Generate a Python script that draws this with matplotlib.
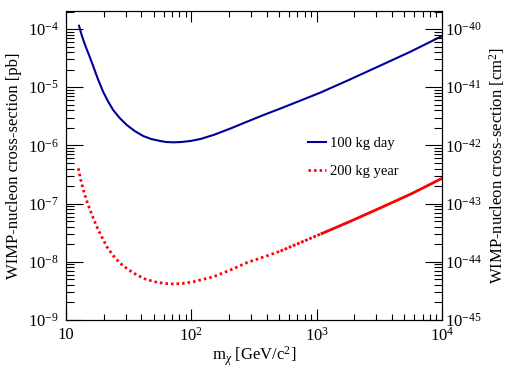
import numpy as np
import matplotlib.pyplot as plt
from matplotlib.ticker import FuncFormatter, FixedLocator, NullFormatter

plt.rcParams['font.family'] = ['Liberation Serif', 'DejaVu Serif']
plt.rcParams['mathtext.fontset'] = 'custom'
plt.rcParams['mathtext.rm'] = 'Liberation Serif'
plt.rcParams['mathtext.it'] = 'Liberation Serif:italic'

# WIMP mass [GeV/c^2] and cross-section limits [pb]
mass_day = [12.71, 13.18, 13.75, 14.45, 15.42, 16.54, 18.03, 19.77, 21.68, 23.77,
            26.79, 30.59, 35.32, 41.30, 47.86, 56.49, 63.10, 71.78, 83.18, 98.17,
            118.0, 150.0, 205.1, 280.5, 376.7, 515.2, 744.7, 1076, 1803, 3076,
            5649, 10000]
sigma_day = [1.139e-4, 8.54e-5, 6.47e-5, 4.81e-5, 3.37e-5, 2.25e-5, 1.356e-5, 8.37e-6,
             5.68e-6, 4.06e-6, 2.96e-6, 2.24e-6, 1.768e-6, 1.45e-6, 1.288e-6, 1.19e-6,
             1.144e-6, 1.13e-6, 1.144e-6, 1.19e-6, 1.288e-6, 1.509e-6, 1.952e-6, 2.574e-6,
             3.33e-6, 4.31e-6, 5.91e-6, 8.11e-6, 1.33e-5, 2.25e-5, 4.11e-5, 7.58e-5]

mass_year = [12.54, 13.06, 13.75, 14.59, 15.56, 16.54, 17.60, 19.23, 21.17, 23.77,
             27.04, 31.33, 36.78, 43.65, 53.17, 61.94, 72.18, 84.72, 104.3, 150.8,
             205.1, 279.0, 376.7, 515.2, 744.7, 1076, 1803, 3076, 5649, 10000]
sigma_year = [4.04e-7, 2.647e-7, 1.713e-7, 1.131e-7, 7.76e-8, 5.55e-8, 4.01e-8, 2.72e-8,
              1.817e-8, 1.283e-8, 9.42e-9, 7.37e-9, 5.93e-9, 4.97e-9, 4.44e-9, 4.24e-9,
              4.155e-9, 4.24e-9, 4.55e-9, 5.55e-9, 7.23e-9, 9.73e-9, 1.209e-8, 1.533e-8,
              2.146e-8, 3.00e-8, 4.83e-8, 8.07e-8, 1.462e-7, 2.72e-7]

labels = ['100 kg day', '200 kg year']
x_decades = [1, 2, 3, 4]
y_decades = [-9, -8, -7, -6, -5, -4]
pb_to_cm2 = 1e-36
ylo, yhi = 1e-9, 2.04e-4

fig = plt.figure(figsize=(5.08, 3.68), dpi=100)
ax = fig.add_axes([66/508, 48/368, 376/508, 309/368])

ax.plot(mass_day, sigma_day, color='#000099', lw=1.5, label=labels[0])

# dotted at low mass; the drawn dots crowd together at high mass
my = np.array(mass_year)
sy = np.array(sigma_year)
i1 = 23   # 515 GeV
i2 = 25   # 1076 GeV
ax.plot(my[:i1 + 1], sy[:i1 + 1], color='red', lw=2.0, linestyle=(0, (0.9, 1.1)),
        label=labels[1])
ax.plot(my[i1:i2 + 1], sy[i1:i2 + 1], color='red', lw=2.0, linestyle=(0, (1.0, 0.6)))
ax.plot(my[i2:], sy[i2:], color='red', lw=2.0, solid_capstyle='butt')

ax.set_xscale('log')
ax.set_yscale('log')
ax.set_xlim(10, 1e4)
ax.set_ylim(ylo, yhi)


def decade_ticks(exps, lo, hi):
    major = [10.0 ** e for e in exps]
    minor = [k * 10.0 ** e for e in range(min(exps) - 1, max(exps) + 1)
             for k in range(2, 10) if lo <= k * 10.0 ** e <= hi]
    return major, minor


def xfmt(v, pos):
    e = int(round(np.log10(v)))
    if e == 1:
        return '10'
    return r'$10^{%d}$' % e


def yfmt(v, pos):
    return r'$10^{%d}$' % int(round(np.log10(v)))


xmaj, xmin = decade_ticks(x_decades, 10, 1e4)
ymaj, ymin = decade_ticks(y_decades, ylo, yhi)
ax.xaxis.set_major_locator(FixedLocator(xmaj))
ax.xaxis.set_minor_locator(FixedLocator(xmin))
ax.yaxis.set_major_locator(FixedLocator(ymaj))
ax.yaxis.set_minor_locator(FixedLocator(ymin))
ax.xaxis.set_major_formatter(FuncFormatter(xfmt))
ax.yaxis.set_major_formatter(FuncFormatter(yfmt))
ax.xaxis.set_minor_formatter(NullFormatter())
ax.yaxis.set_minor_formatter(NullFormatter())

ax.tick_params(axis='x', which='both', direction='in', top=True, labelsize=12, pad=5)
ax.tick_params(axis='x', which='major', length=8, width=0.8)
ax.tick_params(axis='x', which='minor', length=4, width=0.8)
ax.tick_params(axis='y', which='both', direction='in', right=False, labelsize=12, pad=5)
ax.tick_params(axis='y', which='major', length=12, width=0.8)
ax.tick_params(axis='y', which='minor', length=6, width=0.8)

ax2 = ax.twinx()
ax2.set_yscale('log')
ax2.set_ylim(ylo * pb_to_cm2, yhi * pb_to_cm2)
ax2.yaxis.set_major_locator(FixedLocator([v * pb_to_cm2 for v in ymaj]))
ax2.yaxis.set_minor_locator(FixedLocator([v * pb_to_cm2 for v in ymin]))
ax2.yaxis.set_major_formatter(FuncFormatter(yfmt))
ax2.yaxis.set_minor_formatter(NullFormatter())
ax2.tick_params(axis='y', which='both', direction='in', labelsize=12, pad=2)
ax2.tick_params(axis='y', which='major', length=12, width=0.8)
ax2.tick_params(axis='y', which='minor', length=6, width=0.8)

for a in (ax, ax2):
    for s in a.spines.values():
        s.set_linewidth(0.8)

ax.set_xlabel(r'm$_{\chi}$ [GeV/c$^{2}$]', fontsize=12, labelpad=0)
ax.set_ylabel('WIMP-nucleon cross-section [pb]', fontsize=12, labelpad=4)
ax2.set_ylabel(r'WIMP-nucleon cross-section [cm$^{2}$]', fontsize=12, labelpad=4)

ax.legend(loc='upper left', bbox_to_anchor=(308/508, 1 - 137/368), bbox_transform=fig.transFigure,
          frameon=False, fontsize=10.5, handlelength=1.25, handletextpad=0.28, labelspacing=1.0,
          borderpad=0, borderaxespad=0)

fig.savefig('out.png', dpi=100)
